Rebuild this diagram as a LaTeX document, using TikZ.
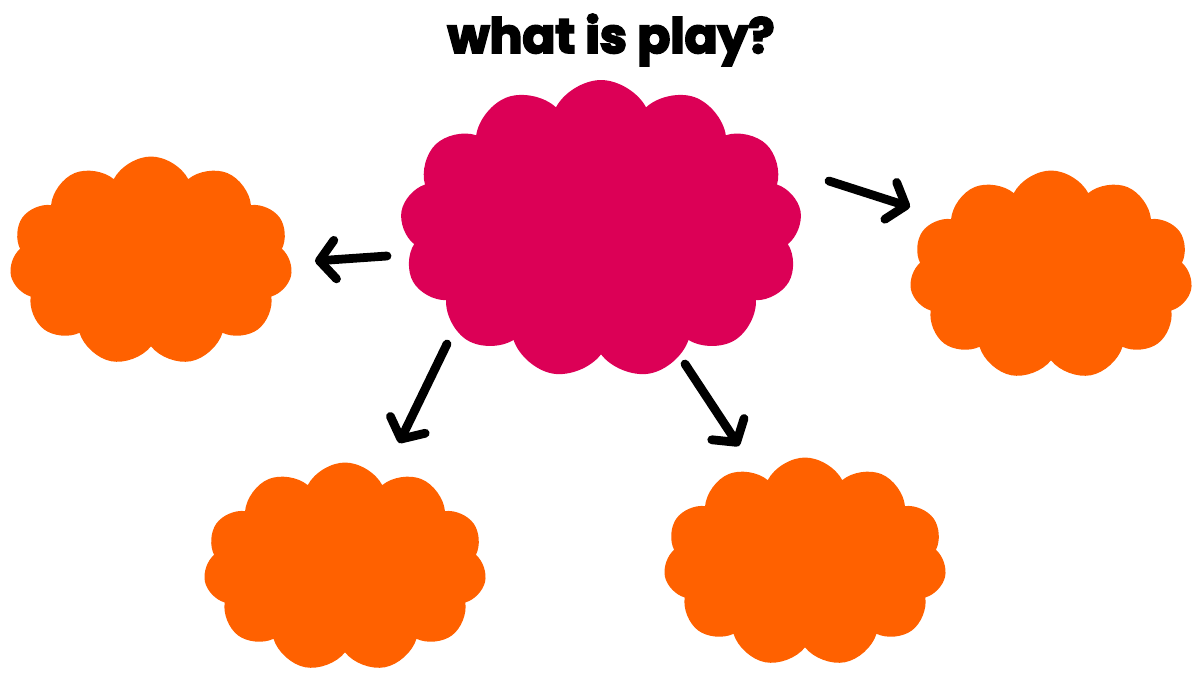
\documentclass[tikz,border=0pt]{standalone}
\usepackage{fontspec}
\newfontfamily\titlefont{Poppins}[BoldFeatures={FakeBold=4}]
\usetikzlibrary{shapes.symbols,arrows.meta}
\definecolor{puffpink}{RGB}{220,0,86}
\definecolor{puffor}{RGB}{255,97,0}
\tikzset{
  bigcloud/.style={cloud, fill=puffpink, draw=none, cloud puffs=13, cloud puff arc=125,
    cloud ignores aspect, minimum width=8.04cm, minimum height=5.96cm},
  smallcloud/.style={cloud, fill=puffor, draw=none, cloud puffs=11, cloud puff arc=125,
    cloud ignores aspect, minimum width=5.66cm, minimum height=4.18cm},
  arr/.style={line width=5pt, line cap=round, line join=round,
    -{Straight Barb[length=9pt, width=22pt, line cap=round, line join=round]}}
}
\begin{document}
\begin{tikzpicture}[x=0.02cm, y=-0.02cm]
  \useasboundingbox (0,0) rectangle (1195,675);
  % title
  \node (title) at (611,40) {\resizebox{6.54cm}{!}{\titlefont\bfseries what is play?}};
  % clouds
  \node[bigcloud]   (main) at (601,229) {};
  \node[smallcloud] (left) at (151,261) {};
  \node[smallcloud] (right) at (1051,275) {};
  \node[smallcloud] (botl) at (345,567) {};
  \node[smallcloud] (botr) at (805,562) {};
  % arrow end points
  \coordinate (l0) at (387,256);  \coordinate (l1) at (315,261);
  \coordinate (r0) at (829,181);  \coordinate (r1) at (910,207);
  \coordinate (bl0) at (447,344); \coordinate (bl1) at (399,443);
  \coordinate (br0) at (685,364); \coordinate (br1) at (739,446);
  % arrows
  \draw[arr] (l0) -- (l1);
  \draw[arr] (r0) -- (r1);
  \draw[arr] (bl0) -- (bl1);
  \draw[arr] (br0) -- (br1);
\end{tikzpicture}
\end{document}
